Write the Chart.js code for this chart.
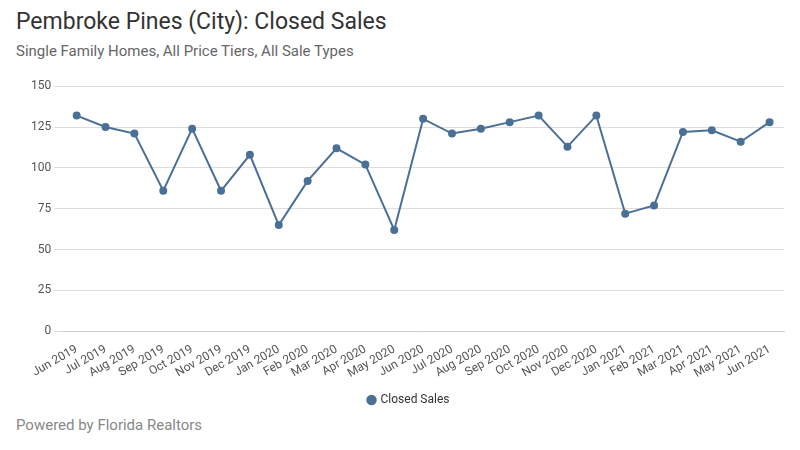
<!DOCTYPE html>
<html>
<head>
<meta charset="utf-8">
<script src="https://cdn.jsdelivr.net/npm/chart.js@4"></script>
<style>
  body { margin: 0; width: 800px; height: 450px; background: #fff; font-family: Roboto, sans-serif; position: relative; overflow: hidden; }
  #title { position: absolute; left: 16px; top: 8px; font-size: 23px; color: #333; }
  #subtitle { position: absolute; left: 16px; top: 42px; font-size: 15px; color: #666; }
  #footer { position: absolute; left: 16px; top: 416px; font-size: 15px; color: #888; }
  #wrap { position: absolute; left: 0; top: 76px; width: 790px; height: 340px; }
</style>
</head>
<body>
<div id="title">Pembroke Pines (City): Closed Sales</div>
<div id="subtitle">Single Family Homes, All Price Tiers, All Sale Types</div>
<div id="wrap"><canvas id="chart"></canvas></div>
<div id="footer">Powered by Florida Realtors</div>
<script>
// Closed sales by month, Jun 2019 - Jun 2021
const months = ['Jun 2019', 'Jul 2019', 'Aug 2019', 'Sep 2019', 'Oct 2019', 'Nov 2019', 'Dec 2019',
  'Jan 2020', 'Feb 2020', 'Mar 2020', 'Apr 2020', 'May 2020', 'Jun 2020', 'Jul 2020', 'Aug 2020',
  'Sep 2020', 'Oct 2020', 'Nov 2020', 'Dec 2020', 'Jan 2021', 'Feb 2021', 'Mar 2021', 'Apr 2021',
  'May 2021', 'Jun 2021'];
const closedSales = [132, 125, 121, 86, 124, 86, 108, 65, 92, 112, 102, 62, 130, 121, 124,
  128, 132, 113, 132, 72, 77, 122, 123, 116, 128];

const lineColor = '#4a7096';

new Chart(document.getElementById('chart').getContext('2d'), {
    type: 'line',
    data: {
        labels: months,
        datasets: [{
            label: 'Closed Sales',
            data: closedSales,
            borderColor: lineColor,
            backgroundColor: lineColor,
            borderWidth: 2,
            pointRadius: 3,
            tension: 0
        }]
    },
    options: {
        responsive: true,
        maintainAspectRatio: false,
        animation: false,
        layout: { padding: { left: 28, right: 0, top: 0, bottom: 0 } },
        plugins: {
            legend: {
                position: 'bottom',
                labels: { usePointStyle: true, pointStyle: 'circle', boxWidth: 6, boxHeight: 6, color: '#333', font: { family: 'Roboto', size: 12 } }
            },
            tooltip: { enabled: false }
        },
        scales: {
            x: {
                offset: true,
                grid: { display: false },
                border: { color: '#ccc' },
                ticks: { maxRotation: 30, minRotation: 30, autoSkip: false, color: '#555', font: { family: 'Roboto', size: 12 } }
            },
            y: {
                min: 0, max: 150,
                ticks: { stepSize: 25, color: '#555', font: { family: 'Roboto', size: 12 } },
                grid: { color: '#ddd' },
                border: { display: false }
            }
        }
    }
});
</script>
</body>
</html>
